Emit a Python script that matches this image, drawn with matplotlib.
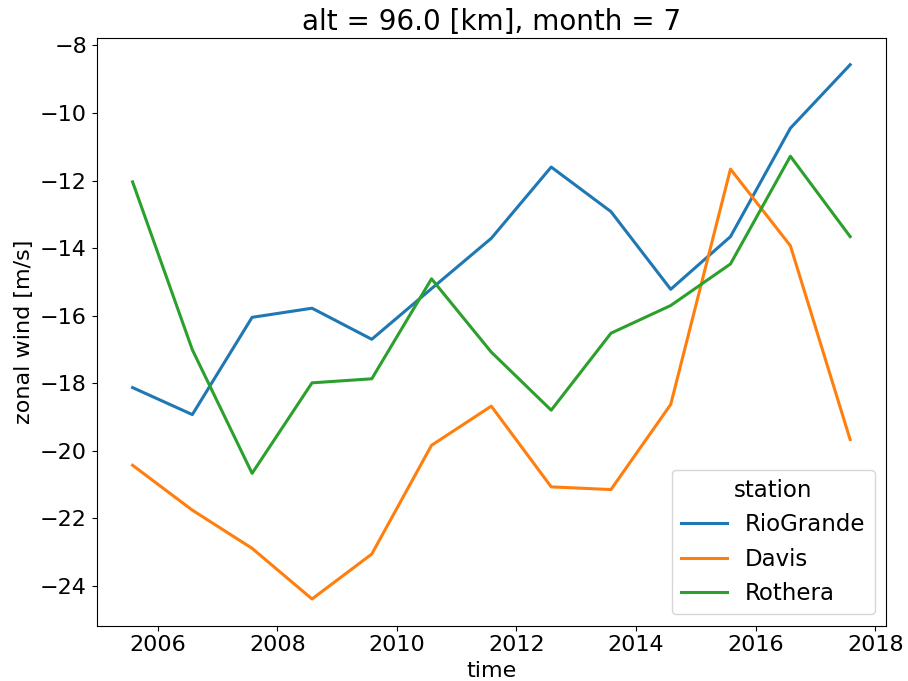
import numpy as np
import pandas as pd
import matplotlib
matplotlib.use("Agg")
import matplotlib.pyplot as plt

# July means, one value per year (time stamped at end of July)
years = list(range(2005, 2018))
stations = ["RioGrande", "Davis", "Rothera"]

riogrande = [-18.13, -18.93, -16.05, -15.78, -16.70, -15.20, -13.71,
             -11.60, -12.92, -15.22, -13.66, -10.45, -8.57]
davis = [-20.43, -21.76, -22.89, -24.39, -23.06, -19.84, -18.68,
         -21.07, -21.15, -18.63, -11.66, -13.93, -19.67]
rothera = [-12.04, -17.01, -20.67, -17.99, -17.87, -14.91, -17.08,
           -18.80, -16.52, -15.70, -14.47, -11.28, -13.66]

time = pd.to_datetime([f"{y}-07-31" for y in years])

plt.rcParams["font.size"] = 16

fig = plt.figure(figsize=(9.08, 6.81), dpi=100)
ax = fig.add_axes([0.1065, 0.0812, 0.8693, 0.8630])

for name, vals in zip(stations, [riogrande, davis, rothera]):
    ax.plot(time, vals, lw=2.2, label=name)

ax.set_title("alt = 96.0 [km], month = 7", fontsize=20)
ax.set_xlabel("time")
ax.set_ylabel("zonal wind [m/s]")
ax.legend(title="station", loc="lower right", fontsize=16.5, title_fontsize=16.5)

fig.savefig("out.png", dpi=100)
